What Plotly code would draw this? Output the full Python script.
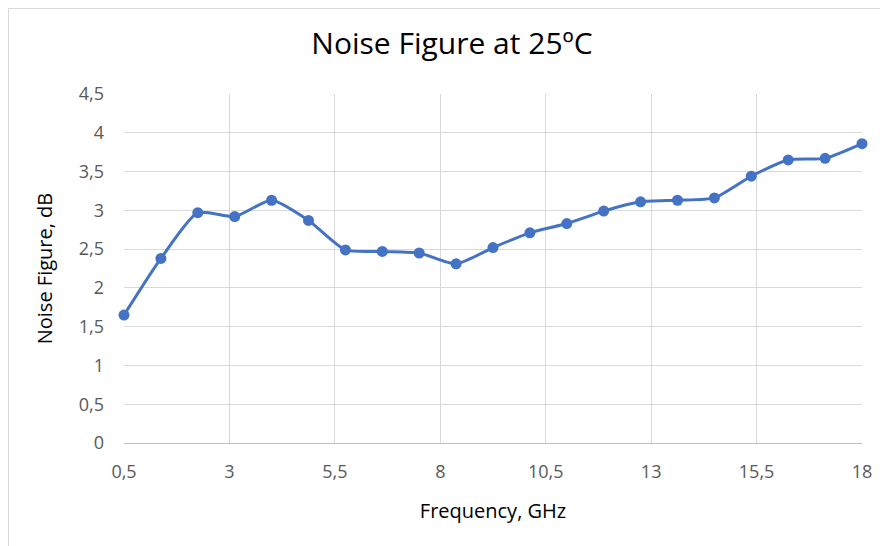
"""Noise figure vs frequency."""

import plotly.graph_objects as go

FONT = "Open Sans, Calibri, sans-serif"
LINE_COLOR = "#4472C4"
GRID_COLOR = "#d9d9d9"

freq_ghz = [0.5, 1.375, 2.25, 3.125, 4.0, 4.875, 5.75, 6.625, 7.5, 8.375, 9.25,
            10.125, 11.0, 11.875, 12.75, 13.625, 14.5, 15.375, 16.25, 17.125, 18.0]
noise_figure_db = [1.65, 2.38, 2.97, 2.92, 3.13, 2.87, 2.49, 2.47, 2.45, 2.31, 2.52,
                   2.71, 2.83, 2.99, 3.11, 3.13, 3.16, 3.44, 3.65, 3.67, 3.86]

x_ticks = [0.5, 3, 5.5, 8, 10.5, 13, 15.5, 18]
y_ticks = [0, 0.5, 1, 1.5, 2, 2.5, 3, 3.5, 4, 4.5]

fig = go.Figure()
fig.add_trace(go.Scatter(
    x=freq_ghz, y=noise_figure_db, mode="lines+markers",
    line={"color": LINE_COLOR, "width": 3, "shape": "spline", "smoothing": 0.6},
    marker={"color": LINE_COLOR, "size": 11},
    cliponaxis=False, showlegend=False,
))

# the page puts the figure 8 px in from the top-left corner
fig.update_layout(
    width=888, height=546,
    template="plotly_white",
    separators=", ",
    font={"family": FONT, "size": 18, "color": "#595959"},
    title={"text": "Noise Figure at 25ºC", "x": 0.5, "xanchor": "center", "y": 0.935, "yanchor": "middle",
           "font": {"family": FONT, "size": 30, "color": "#000000"}},
    margin={"l": 116, "r": 34, "t": 86, "b": 111},
    plot_bgcolor="white", paper_bgcolor="white",
    shapes=[
        {"type": "line", "xref": "paper", "yref": "paper", "x0": -0.1565, "x1": -0.1565, "y0": -0.4, "y1": 1.245,
         "line": {"color": GRID_COLOR, "width": 1}},
        {"type": "line", "xref": "paper", "yref": "paper", "x0": -0.1565, "x1": 1.1, "y0": 1.245, "y1": 1.245,
         "line": {"color": GRID_COLOR, "width": 1}},
    ],
)
fig.update_xaxes(
    range=[0.5, 18], tickvals=x_ticks, showgrid=True, gridcolor=GRID_COLOR, gridwidth=1,
    zeroline=False, showline=True, linecolor="#bfbfbf", ticks="", ticklabelstandoff=12, automargin=False,
    title={"text": "Frequency, GHz", "font": {"family": FONT, "size": 20, "color": "#000000"}, "standoff": 22},
)
fig.update_yaxes(
    range=[0, 4.5], tickvals=y_ticks, showgrid=True, gridcolor=GRID_COLOR, gridwidth=1,
    zeroline=False, showline=False, ticks="", ticklabelstandoff=19, automargin=False,
    title={"text": "Noise Figure, dB", "font": {"family": FONT, "size": 20, "color": "#000000"}, "standoff": 20},
)

fig.write_html("out.html")
